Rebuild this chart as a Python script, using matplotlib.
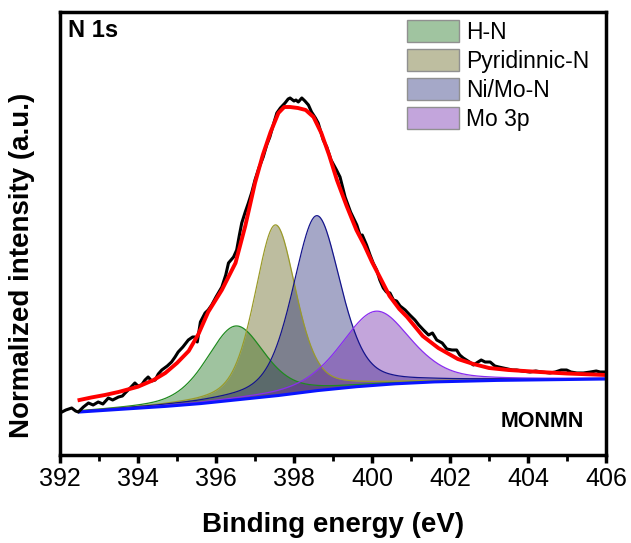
import numpy as np
import matplotlib
matplotlib.use("Agg")
import matplotlib.pyplot as plt
from matplotlib.patches import Patch

plt.rcParams['font.family'] = ['Liberation Sans', 'DejaVu Sans']

exp_e = [392.0, 392.15, 392.3, 392.4, 392.47, 392.6, 392.73, 392.85, 392.98, 393.1,
         393.24, 393.35, 393.5, 393.6, 393.67, 393.8, 393.92, 394.0, 394.09, 394.18,
         394.26, 394.35, 394.44, 394.52, 394.61, 394.75, 394.86, 394.95, 395.03, 395.15,
         395.29, 395.4, 395.46, 395.52, 395.6, 395.72, 395.8, 395.89, 396.0, 396.15,
         396.25, 396.32, 396.45, 396.53, 396.6, 396.66, 396.75, 396.83, 396.92, 397.0,
         397.1, 397.21, 397.3, 397.38, 397.46, 397.56, 397.65, 397.77, 397.85, 397.9,
         398.0, 398.05, 398.11, 398.2, 398.28, 398.37, 398.45, 398.55, 398.62, 398.75,
         398.84, 398.95, 399.09, 399.18, 399.25, 399.31, 399.45, 399.61, 399.7, 399.75,
         399.86, 399.95, 400.03, 400.12, 400.2, 400.29, 400.37, 400.46, 400.55, 400.63,
         400.72, 400.85, 400.97, 401.1, 401.2, 401.32, 401.45, 401.55, 401.66, 401.8,
         401.92, 402.05, 402.17, 402.25, 402.34, 402.5, 402.6, 402.68, 402.8, 402.9,
         403.03, 403.15, 403.25, 403.37, 403.5, 403.6, 403.71, 403.85, 404.05, 404.2,
         404.35, 404.56, 404.7, 404.85, 404.99, 405.1, 405.25, 405.42, 405.6, 405.75,
         405.85, 406.0]
exp_i = [0.42, 0.45, 0.47, 0.44, 0.43, 0.48, 0.52, 0.50, 0.53, 0.51,
         0.57, 0.55, 0.58, 0.59, 0.62, 0.67, 0.72, 0.69, 0.70, 0.75,
         0.78, 0.74, 0.75, 0.81, 0.85, 0.89, 0.93, 0.98, 1.03, 1.08,
         1.15, 1.18, 1.18, 1.13, 1.33, 1.42, 1.45, 1.50, 1.58, 1.68,
         1.80, 1.92, 1.98, 2.05, 2.20, 2.32, 2.43, 2.52, 2.63, 2.75,
         2.87, 2.98, 3.10, 3.18, 3.29, 3.42, 3.47, 3.52, 3.56, 3.57,
         3.54, 3.55, 3.53, 3.57, 3.54, 3.50, 3.43, 3.37, 3.32, 3.15,
         3.08, 2.95, 2.85, 2.78, 2.67, 2.58, 2.43, 2.30, 2.19, 2.20,
         2.10, 2.00, 1.92, 1.85, 1.75, 1.67, 1.63, 1.62, 1.55, 1.54,
         1.49, 1.45, 1.40, 1.35, 1.30, 1.25, 1.20, 1.22, 1.15, 1.12,
         1.06, 1.05, 1.05, 1.00, 0.97, 0.93, 0.90, 0.92, 0.95, 0.93,
         0.93, 0.89, 0.88, 0.87, 0.86, 0.85, 0.85, 0.84, 0.83, 0.84,
         0.83, 0.82, 0.83, 0.85, 0.85, 0.83, 0.82, 0.82, 0.83, 0.84,
         0.83, 0.83]

# fitted envelope
fit_e = [392.5, 392.8, 393.15, 393.5, 394.0, 394.4, 394.7, 395.0, 395.3, 395.55,
         395.8, 396.15, 396.5, 396.75, 397.0, 397.2, 397.4, 397.6, 397.75, 397.9,
         398.1, 398.3, 398.5, 398.7, 398.9, 399.1, 399.35, 399.6, 399.8, 400.0,
         400.2, 400.45, 400.7, 400.9, 401.3, 401.7, 402.2, 402.6, 403.0, 403.5,
         404.3, 405.0, 406.0]
fit_i = [0.55, 0.575, 0.60, 0.63, 0.683, 0.75, 0.82, 0.92, 1.04, 1.21,
         1.43, 1.65, 1.92, 2.29, 2.72, 3.00, 3.23, 3.42, 3.48, 3.48,
         3.47, 3.45, 3.38, 3.22, 3.00, 2.75, 2.49, 2.25, 2.10, 1.93,
         1.78, 1.59, 1.46, 1.38, 1.19, 1.07, 0.96, 0.91, 0.87, 0.85,
         0.83, 0.815, 0.80]

# background
bg_e = [392.5, 393.5, 394.5, 395.5, 396.5, 397.5, 398.5, 399.5, 400.5, 401.5, 403.0, 406.0]
bg_i = [0.43, 0.455, 0.48, 0.51, 0.55, 0.59, 0.64, 0.68, 0.71, 0.73, 0.745, 0.76]

# components: center, height above background, FWHM
names = ["H-N", "Pyridinnic-N", "Ni/Mo-N", "Mo 3p"]
centers = [396.5, 397.52, 398.58, 400.1]
heights = [0.74, 1.71, 1.75, 0.74]
fwhms = [1.75, 1.25, 1.45, 2.1]
lor_frac = 0.4

fill_cols = ["#116b11", "#5c5c11", "#1e2575", "#691ea7"]
edge_cols = ["#1f8a1f", "#9a9a2a", "#14148c", "#8a2cf0"]
legend_cols = ["#a0c4a0", "#bebea0", "#a5a8c8", "#c3a5dc"]

e = np.linspace(392.5, 406, 700)
bg = np.interp(e, bg_e, bg_i)

fig = plt.figure(figsize=(6.31, 5.43), dpi=100)
ax = fig.add_axes([60 / 631, 88 / 543, 546 / 631, 443 / 543])

for c, h, w, fc, ec in zip(centers, heights, fwhms, fill_cols, edge_cols):
    s = w / 2.3548
    g = np.exp(-(e - c) ** 2 / (2 * s ** 2))
    lo = 1 / (1 + ((e - c) / (w / 2)) ** 2)
    y = bg + h * ((1 - lor_frac) * g + lor_frac * lo)
    ax.fill_between(e, bg, y, color=fc, alpha=0.4, lw=0)
    ax.plot(e, y, color=ec, lw=0.9)

ax.plot(e, bg, color="#0a14ff", lw=2.2)
ax.plot(exp_e, exp_i, color="black", lw=2.2)
ax.plot(fit_e, fit_i, color="#ff0000", lw=2.8)

ax.set_xlim(392, 406)
ax.set_ylim(0, 4.43)
ax.set_xticks(np.arange(392, 407, 2))
ax.set_xticks(np.arange(393, 406, 2), minor=True)
ax.set_yticks([])
ax.tick_params(axis='x', which='major', direction='out', length=6, width=2.5, labelsize=18, pad=3)
ax.tick_params(axis='x', which='minor', direction='out', length=4, width=2)
for sp in ax.spines.values():
    sp.set_linewidth(2.5)

ax.set_xlabel("Binding energy (eV)", fontsize=20, fontweight='bold', labelpad=15)
ax.set_ylabel("Normalized intensity (a.u.)", fontsize=20, fontweight='bold')
ax.yaxis.set_label_coords(-0.045, 0.427)
ax.text(0.015, 0.985, "N 1s", transform=ax.transAxes, fontsize=17, fontweight='bold',
        ha='left', va='top')
ax.text(0.959, 0.075, "MONMN", transform=ax.transAxes, fontsize=15.5, fontweight='bold',
        ha='right', va='center')

handles = [Patch(facecolor=c, edgecolor="#909090", lw=1) for c in legend_cols]
ax.legend(handles, names, loc='upper right', bbox_to_anchor=(0.995, 1.012), frameon=False,
          fontsize=16.5, handlelength=2.3, handleheight=1.05, labelspacing=0.24,
          handletextpad=0.3, borderaxespad=0.2)

fig.savefig("out.png", dpi=100)
